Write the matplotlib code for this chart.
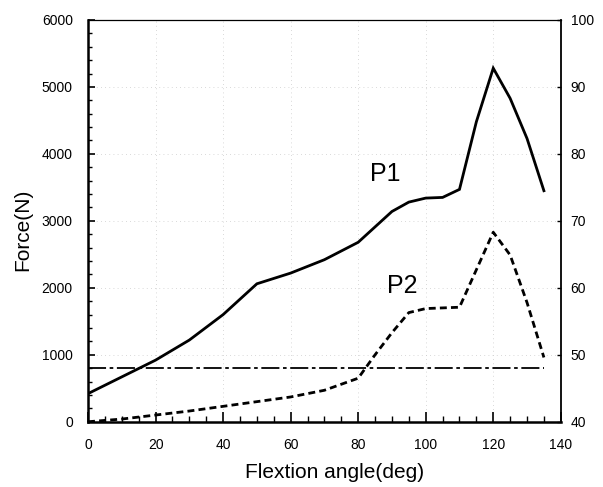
import matplotlib
matplotlib.use('Agg')
import matplotlib.pyplot as plt
from matplotlib.ticker import MultipleLocator

plt.rcParams['font.family'] = ['Liberation Sans', 'DejaVu Sans']

# flexion angle (deg) and contact forces (N)
angle_p1 = [0, 10, 20, 30, 40, 50, 60, 70, 80, 90, 95, 100, 105, 110, 115, 120, 125, 130, 135]
force_p1 = [420, 670, 920, 1220, 1600, 2060, 2220, 2420, 2680, 3140, 3280, 3340, 3350, 3470, 4480, 5280, 4830, 4230, 3450]

angle_p2 = [0, 10, 20, 30, 40, 50, 60, 70, 80, 85, 90, 95, 100, 105, 110, 120, 125, 130, 135]
force_p2 = [0, 40, 100, 160, 230, 300, 370, 470, 650, 1000, 1330, 1630, 1690, 1700, 1710, 2830, 2490, 1780, 960]

# reference level on the right-hand scale
ref_angle = [0, 135]
ref_level = [48, 48]

fig = plt.figure(figsize=(6.03, 4.87), dpi=100)
ax = fig.add_axes([0.146, 0.134, 0.784, 0.825])

ax.plot(angle_p1, force_p1, color='black', lw=2.0, solid_joinstyle='miter')
ax.plot(angle_p2, force_p2, color='black', lw=2.0, linestyle=(0, (2.5, 1.5)))

ax.set_xlim(0, 140)
ax.set_ylim(0, 6000)
ax.xaxis.set_major_locator(MultipleLocator(20))
ax.xaxis.set_minor_locator(MultipleLocator(5))
ax.yaxis.set_major_locator(MultipleLocator(1000))
ax.yaxis.set_minor_locator(MultipleLocator(200))
ax.tick_params(axis='x', which='major', direction='in', length=7, width=1.2, labelsize=10, pad=12, top=False)
ax.tick_params(axis='x', which='minor', direction='in', length=4, width=1.0, top=False)
ax.tick_params(axis='y', which='major', direction='in', length=5, width=1.2, labelsize=10, pad=11, right=False)
ax.tick_params(axis='y', which='minor', direction='in', length=3, width=1.0, right=False)
ax.grid(True, which='major', color='0.8', linestyle=(0, (1, 4)), lw=0.6)

ax.set_xlabel('Flextion angle(deg)', fontsize=15)
ax.xaxis.set_label_coords(0.522, -0.103)
ax.set_ylabel('Force(N)', fontsize=15)
ax.yaxis.set_label_coords(-0.118, 0.477)

ax.text(88, 3700, 'P1', fontsize=18, ha='center', va='center')
ax.text(93, 2020, 'P2', fontsize=18, ha='center', va='center')

ax.spines['left'].set_linewidth(1.8)
ax.spines['bottom'].set_linewidth(1.8)
ax.spines['top'].set_linewidth(0.9)
ax.spines['right'].set_linewidth(1.3)

ax2 = ax.twinx()
ax2.plot(ref_angle, ref_level, color='black', lw=1.3, linestyle=(0, (10, 2, 2, 2)))
ax2.set_ylim(40, 100)
ax2.yaxis.set_major_locator(MultipleLocator(10))
ax2.tick_params(axis='y', direction='in', length=3, width=1.0, labelsize=10, pad=7)
for s in ax2.spines.values():
    s.set_visible(False)

fig.savefig('out.png', dpi=100)
